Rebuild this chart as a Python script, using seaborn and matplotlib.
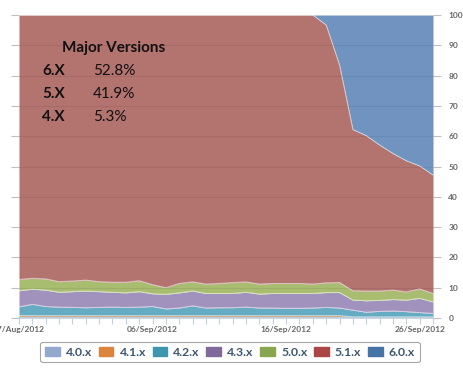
import numpy as np
import matplotlib
matplotlib.use("Agg")
import matplotlib.pyplot as plt
from matplotlib.patches import Patch
import seaborn as sns

# ── Data (share of installs, %, one value per day 27/Aug/2012 .. 27/Sep/2012) ──
versions = ["4.0.x", "4.1.x", "4.2.x", "4.3.x", "5.0.x", "5.1.x", "6.0.x"]
colors = ["#92A8CD", "#DB843D", "#3D96AE", "#80699B", "#89A54E", "#AA4643", "#4572A7"]
fill_colors = ["#A8B9D8", "#E0A06A", "#65ABC2", "#A092BD", "#A9BD70", "#B3736F", "#7094BF"]

v40 = [0.35] * 32
v41 = [0.45] * 25 + [0.05] * 7
v42 = [2.9, 3.7, 3.0, 2.8, 2.7, 2.6, 2.7, 2.8, 2.7, 2.8, 3.0, 2.2, 2.5, 3.2, 2.5, 2.6,
       2.6, 2.8, 2.5, 2.5, 2.4, 2.4, 2.5, 2.7, 2.5, 2.2, 1.5, 1.8, 1.9, 1.7, 1.4, 1.1]
v43 = [5.3, 5.0, 5.4, 4.9, 5.2, 5.5, 5.2, 4.9, 4.8, 5.1, 4.2, 4.8, 5.0, 4.9, 4.8, 4.7,
       4.7, 4.9, 4.6, 4.8, 4.9, 4.9, 4.8, 4.9, 5.1, 3.3, 3.8, 3.6, 3.8, 3.8, 4.7, 3.8]
v50 = [3.7, 3.6, 3.7, 3.5, 3.5, 3.6, 3.3, 3.3, 3.5, 3.6, 3.0, 2.2, 3.1, 3.0, 3.1, 3.3,
       3.6, 3.4, 3.3, 3.3, 3.3, 3.3, 3.1, 3.2, 3.3, 3.1, 3.2, 3.1, 3.1, 2.7, 3.1, 2.8]
v51 = [87.3, 86.9, 87.1, 88.0, 87.8, 87.5, 88.0, 88.2, 88.2, 87.7, 89.0, 90.0, 88.6, 88.1,
       88.8, 88.6, 88.3, 88.1, 88.8, 88.6, 88.6, 88.6, 88.8, 85.1, 71.8, 53.2, 51.3, 48.2,
       45.1, 43.3, 40.6, 39.1]
v60 = [0.0] * 23 + [3.3, 16.5, 37.8, 39.8, 42.9, 45.7, 48.1, 49.8, 52.8]

days = np.arange(32)
tick_pos = [0, 10, 20, 30]
tick_labels = ["27/Aug/2012", "06/Sep/2012", "16/Sep/2012", "26/Sep/2012"]

summary_names = ["6.X", "5.X", "4.X"]
summary_values = ["52.8%", "41.9%", "5.3%"]

# ── Style ──
sns.set_theme(style="white")
plt.rcParams["font.family"] = ["Lato", "DejaVu Sans"]
palette = sns.color_palette(colors)

fig = plt.figure(figsize=(4.64, 3.71), dpi=100)
ax = fig.add_axes([19 / 464, 1 - 318 / 371, (433 - 19) / 464, (318 - 15) / 371])

series = np.array([v40, v41, v42, v43, v50, v51, v60])
ax.stackplot(days, series, colors=sns.color_palette(fill_colors), linewidth=0)

# thin light lines on each band top
tops = np.cumsum(series, axis=0)
for i in range(1, len(tops) - 1):
    sns.lineplot(x=days, y=tops[i], ax=ax, color="white", lw=0.7, alpha=0.55)

ax.set_xlim(0, 31)
ax.set_ylim(0, 100)
for y in range(10, 100, 10):
    ax.axhline(y, color="#000000", lw=0.8, alpha=0.07, zorder=3)

ax.yaxis.tick_right()
ax.set_yticks(range(0, 101, 10))
ax.tick_params(axis="y", which="both", right=True, left=True, length=6, width=0.8,
               color="#C0C0C0", labelsize=6, labelcolor="#666666", pad=5)
for lab in ax.get_yticklabels():
    lab.set_fontweight("bold")

ax.set_xticks(tick_pos)
ax.set_xticklabels(tick_labels, fontsize=6, color="#666666", fontweight="bold")
ax.set_xticks(days, minor=True)
ax.tick_params(axis="x", which="both", bottom=True, length=4, width=0.8,
               color="#C0D0E0", pad=2)

for side in ["top", "left", "right"]:
    ax.spines[side].set_visible(False)
ax.spines["bottom"].set_color("#C0D0E0")

# ── Overlay summary ──
fig.text(62 / 464, 1 - 52 / 371, "Major Versions", fontsize=11, fontweight="bold",
         color="#111111", va="baseline")
for k, (n, v) in enumerate(zip(summary_names, summary_values)):
    yb = 1 - (75 + 23 * k) / 371
    fig.text(42 / 464, yb, n, fontsize=11, fontweight="bold", color="#111111", va="baseline")
    fig.text(93 / 464, yb, v, fontsize=11, color="#111111", va="baseline")

# ── Legend ──
handles = [Patch(facecolor=c, edgecolor=c) for c in palette]
leg = fig.legend(handles, versions, loc="center", bbox_to_anchor=(230 / 464, 1 - 352 / 371),
                 ncol=7, frameon=True, fancybox=True, fontsize=8.8, handlelength=1.2,
                 handleheight=0.8, handletextpad=0.5, columnspacing=0.55,
                 borderpad=0.4, edgecolor="#909090")
leg.get_frame().set_linewidth(0.8)
for t in leg.get_texts():
    t.set_color("#3E576F")
    t.set_fontweight("bold")

fig.savefig("out.png", dpi=100)
